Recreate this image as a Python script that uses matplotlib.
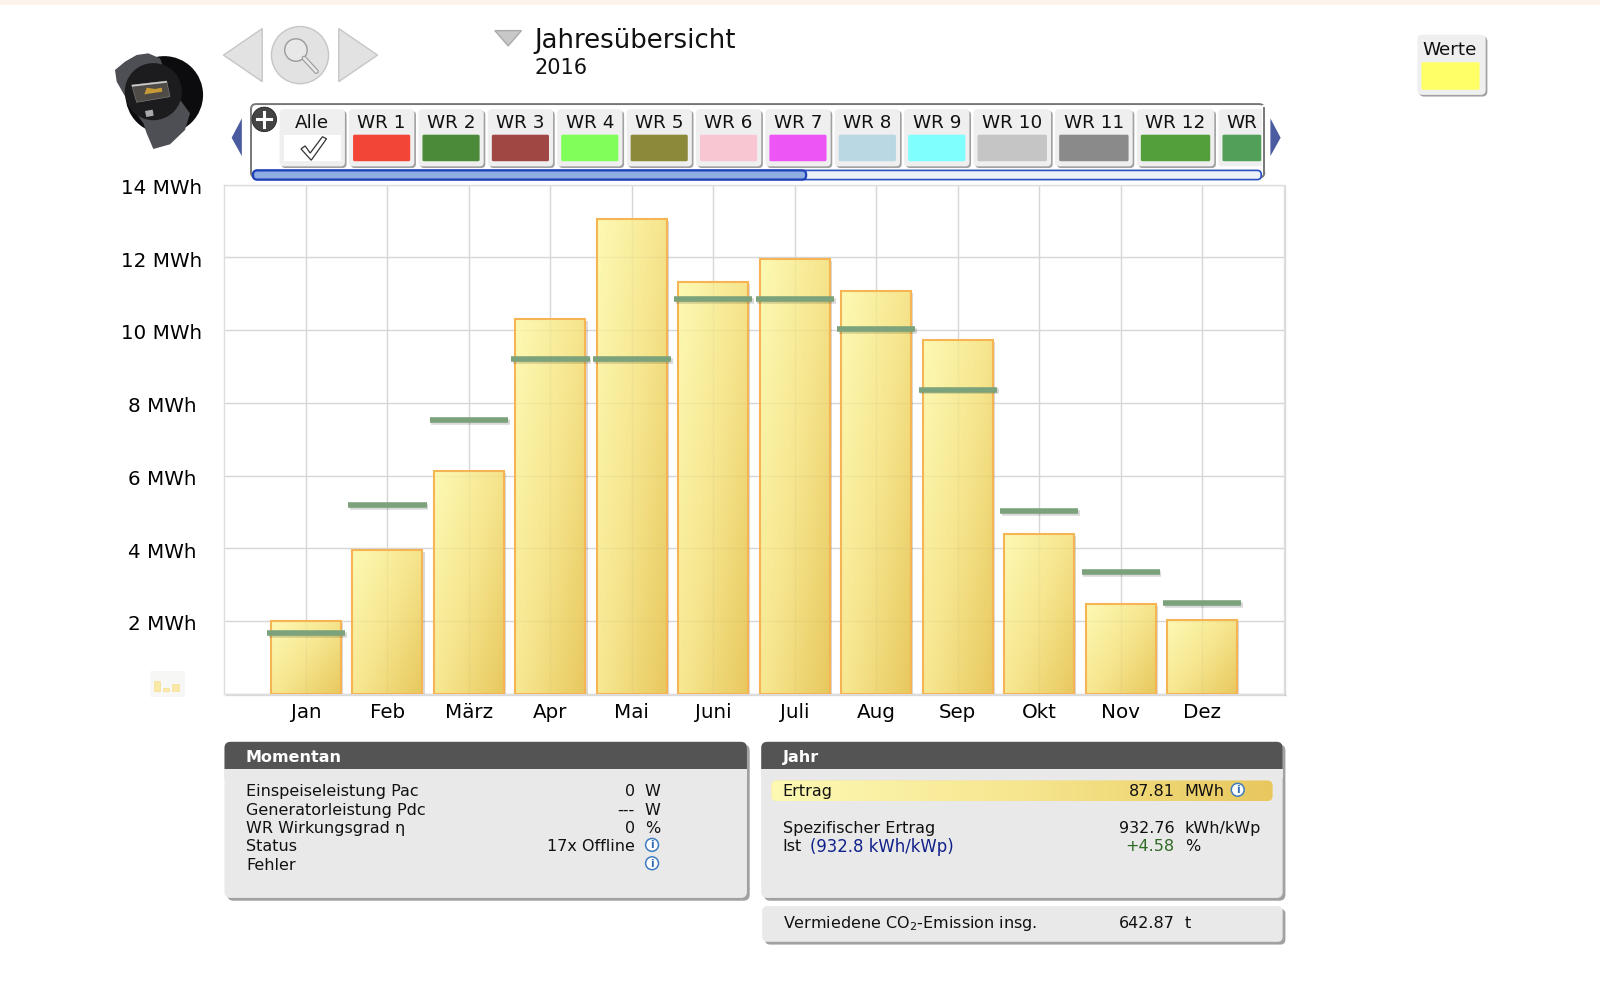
import matplotlib
matplotlib.use("Agg")
import matplotlib.pyplot as plt
import matplotlib.patheffects as pe
import numpy as np
from matplotlib.colors import LinearSegmentedColormap
from matplotlib.patches import Circle, FancyBboxPatch, Polygon, Rectangle
from matplotlib.transforms import ScaledTranslation

months = ["Jan", "Feb", "März", "Apr", "Mai", "Juni", "Juli", "Aug", "Sep", "Okt", "Nov", "Dez"]
ertrag = [2.00, 3.96, 6.14, 10.30, 13.05, 11.33, 11.95, 11.08, 9.74, 4.40, 2.47, 2.02]
soll = [1.66, 5.19, 7.52, 9.20, 9.20, 10.86, 10.86, 10.02, 8.36, 5.02, 3.34, 2.50]
y_ticks = [0, 2, 4, 6, 8, 10, 12, 14]
y_labels = ["", "2 MWh", "4 MWh", "6 MWh", "8 MWh", "10 MWh", "12 MWh", "14 MWh"]

tab_names = ["WR 1", "WR 2", "WR 3", "WR 4", "WR 5", "WR 6", "WR 7", "WR 8", "WR 9", "WR 10", "WR 11", "WR 12", "WR"]
tab_colors = ["#F24537", "#4A8A38", "#A04744", "#80FF5A", "#8C8A38", "#F7C6D2", "#EE55F5", "#BAD8E4",
              "#80FFFF", "#C5C5C5", "#8A8A8A", "#529F3C", "#529F58"]

momentan_rows = [("Einspeiseleistung Pac", "0", "W"), ("Generatorleistung Pdc", "---", "W"),
                 ("WR Wirkungsgrad η", "0", "%"), ("Status", "17x Offline", ""), ("Fehler", "", "")]

# the UI overlay works in the coordinates of a 1568 wide view of the page
W, H = 1568, 961.4
FS = 11.5
TAB_FS = 13.2

fig = plt.figure(figsize=(16, 9.81), dpi=100, facecolor="white")
plt.rcParams["font.family"] = "DejaVu Sans"

gold = LinearSegmentedColormap.from_list("gold", ["#FDF9B3", "#F6E68F", "#E8C85E"])

# chart
ax = fig.add_axes([220 / W, 1 - 680 / H, (1258 - 220) / W, (680 - 181) / H])
ax.set_xlim(0, 13)
ax.set_ylim(0, 14)
x = np.arange(1, 13)
ax.set_xticks(x, months, fontsize=14.3)
ax.set_yticks(y_ticks, y_labels, fontsize=14.3, ha="center")
ax.tick_params(axis="x", length=0, pad=6.5)
ax.tick_params(axis="y", length=0, pad=45)
for lab in ax.get_yticklabels():
    lab.set_transform(lab.get_transform() + ScaledTranslation(0, -1.2 / 72, fig.dpi_scale_trans))
ax.grid(True, color="#D6D6D6", lw=1.0, zorder=0)
ax.set_axisbelow(True)
for name, s in ax.spines.items():
    s.set_color("#DEDEDE")
    s.set_linewidth(1.0)
    if name in ("right", "bottom"):
        s.set_path_effects([pe.SimpleLineShadow(offset=(1, -1), alpha=0.15), pe.Normal()])

bar_w = 0.86
bars = ax.bar(x, ertrag, width=bar_w, facecolor="#F3DC86", edgecolor="#F7B455", linewidth=1.4, zorder=3,
              path_effects=[pe.SimplePatchShadow(offset=(1.5, -1.5), alpha=0.2), pe.Normal()])
gx, gy = np.meshgrid(np.linspace(0, 1, 64), np.linspace(0, 1, 64))
grad = 0.55 * gx + 0.45 * gy
for xi, v, b in zip(x, ertrag, bars):
    im = ax.imshow(grad, extent=(xi - bar_w / 2, xi + bar_w / 2, 0, v), cmap=gold, vmin=0, vmax=1,
                   interpolation="bilinear", aspect="auto", origin="upper", zorder=3.2)
    im.set_clip_path(b)
    # the grid shows faintly through the bars
    faint = [ax.axvline(xi, color="#777777", alpha=0.06, lw=1, zorder=3.3)]
    faint += [ax.axhline(t, color="#777777", alpha=0.06, lw=1, zorder=3.3) for t in y_ticks[1:]]
    for ln in faint:
        ln.set_clip_path(b)
ax.bar(x, ertrag, width=bar_w, facecolor="none", edgecolor="#F7B455", linewidth=1.5, zorder=3.4)
ax.set_xlim(0, 13)
ax.set_ylim(0, 14)
ax.hlines(soll, x - 0.48, x + 0.48, color="#7BA27A", lw=4.0, zorder=5,
          path_effects=[pe.SimpleLineShadow(offset=(1.2, -1.2), alpha=0.15), pe.Normal()])

# page furniture on top
ui = fig.add_axes([0, 0, 1, 1], zorder=5)
ui.set_xlim(0, W)
ui.set_ylim(H, 0)
ui.axis("off")
ui.patch.set_alpha(0)


def rbox(x0, y0, x1, y1, r=4, fc="#EFEFEF", ec="none", lw=0, z=2, shadow=None):
    p = FancyBboxPatch((x0 + r, y0 + r), x1 - x0 - 2 * r, y1 - y0 - 2 * r, boxstyle=f"round,pad={r},rounding_size={r}",
                       fc=fc, ec=ec, lw=lw, zorder=z)
    if shadow:
        p.set_path_effects([pe.SimplePatchShadow(offset=(shadow, -shadow), shadow_rgbFace="#555555", alpha=0.55),
                            pe.Normal()])
    ui.add_patch(p)
    return p


def info(cx, cy):
    ui.add_patch(Circle((cx, cy), 6.3, fc="white", ec="#3E7CC0", lw=1.1, zorder=6))
    ui.text(cx, cy + 0.3, "i", color="#2F6DB5", fontsize=7.5, fontweight="bold", ha="center", va="center", zorder=7)


def txt(px, py, s, ha="left", size=FS, color="#111111", **kw):
    ui.text(px, py + 1, s, ha=ha, va="center", fontsize=size, color=color, zorder=6, **kw)


def dev(pts):
    # device picture points, read in a 3x crop of the page
    return [((105 + a / 3) / 1.0204, (45 + b / 3) / 1.0204) for a, b in pts]


ui.add_patch(Rectangle((0, 0), W, 5, fc="#FDF3EA", ec="none"))

# nav buttons
tri_kw = dict(fc="#E2E2E2", ec="#C6C6C6", lw=1)
ui.add_patch(Polygon([(219, 54), (257, 28), (257, 80)], **tri_kw))
ui.add_patch(Polygon([(332, 28), (332, 80), (370, 54)], **tri_kw))
ui.add_patch(Circle((294, 54), 28, **tri_kw))
ui.add_patch(Circle((290, 49), 11, fc="#E8E8E8", ec="#9A9A9A", lw=1))
ui.plot([298, 310], [57, 70], color="#9A9A9A", lw=3.6, solid_capstyle="round")
ui.plot([298, 310], [57, 70], color="#E8E8E8", lw=2, solid_capstyle="round")
ui.add_patch(Polygon([(485, 30), (511, 30), (498, 45)], fc="#C8C8C8", ec="#AAAAAA", lw=1))
txt(524, 39, "Jahresübersicht", size=18.7)
txt(524, 66, "2016", size=15)

# device picture
ui.add_patch(Circle((161, 93), 38, fc="#0C0C0E", ec="none", zorder=2))
ui.add_patch(Polygon(dev([(30, 75), (60, 50), (95, 30), (130, 25), (165, 40), (200, 130), (255, 205), (240, 255),
                          (195, 298), (145, 312), (125, 265), (115, 235), (75, 180), (35, 110)]),
                     fc="#4E4F55", ec="none", zorder=3))
ui.add_patch(Circle(dev([(145, 140)])[0], 28, fc="#1C1C1F", ec="none", zorder=4))
ui.add_patch(Polygon(dev([(80, 120), (185, 108), (195, 155), (95, 172)]), fc="#4F4C48", ec="#888888", lw=0.4, zorder=5))
ui.add_patch(Polygon(dev([(80, 120), (185, 108), (186, 113), (81, 125)]), fc="#CCCCCC", ec="none", zorder=6))
ui.add_patch(Polygon(dev([(118, 148), (172, 140), (170, 128), (150, 132), (125, 128)]), fc="#C89A35", ec="none", zorder=6))
ui.add_patch(Polygon(dev([(120, 198), (143, 194), (146, 212), (124, 216)]), fc="#AAAAAA", ec="none", zorder=6))

# tab strip
rbox(246, 102, 1239, 174, r=5, fc="white", ec="#777777", lw=1.4, z=1)
ui.add_patch(Polygon([(237, 116), (237, 153), (227, 135)], fc="#4A5BA0", ec="none"))
ui.add_patch(Polygon([(1245, 116), (1245, 153), (1255, 135)], fc="#4A5BA0", ec="none"))

rbox(274, 107, 338, 163, fc="#EFEFEF", shadow=1.2)
txt(306, 120, "Alle", ha="center", size=TAB_FS)
ui.add_patch(Rectangle((278, 132), 56, 26, fc="white", ec="none", zorder=3))
ui.add_patch(Polygon([(295, 146), (299, 143), (304, 150), (316, 134), (320, 136), (305, 157)],
                     fc="white", ec="#333333", lw=0.9, zorder=4))

tab_edges = [(342 + 68 * i, 406 + 68 * i) for i in range(9)] + [(954, 1030), (1034, 1110), (1114, 1190), (1194, 1240)]
for name, col, (a, b) in zip(tab_names, tab_colors, tab_edges):
    rbox(a, 107, b, 163, fc="#EFEFEF", shadow=1.2 if name != "WR" else None)
    if name == "WR":
        txt(a + 8, 120, name, size=TAB_FS)
        rbox(a + 4, 132, 1236, 158, r=1.5, fc=col, z=3)
    else:
        txt((a + b) / 2, 120, name, ha="center", size=TAB_FS)
        rbox(a + 4, 132, b - 4, 158, r=1.5, fc=col, z=3)
# redraw right edge of the strip over the clipped tab
ui.add_patch(Rectangle((1237, 103), 5, 66, fc="white", ec="none", zorder=4))
ui.plot([1239, 1239], [106, 170], color="#777777", lw=1.4, zorder=5)

rbox(248, 167, 1236, 176, r=4, fc="#EEF2F8", ec="#2A4FC0", lw=1.2, z=5)
rbox(248, 167, 790, 176, r=4, fc="#8FADE0", ec="#1E40B8", lw=1.6, z=5.5)
ui.add_patch(Circle((259, 117), 12, fc="#444444", ec="#222222", lw=0.6, zorder=7))
ui.plot([252, 266], [117, 117], color="white", lw=2.2, zorder=8)
ui.plot([259, 259], [110, 124], color="white", lw=2.2, zorder=8)

# Werte box
rbox(1389, 34, 1456, 93, r=5, fc="#EFEFEF", shadow=1.2)
txt(1421, 48, "Werte", ha="center", size=TAB_FS)
rbox(1393, 61, 1450, 88, r=1.5, fc="#FFFF66", z=3)

# tiny chart icon left of the axis
ui.add_patch(Rectangle((147, 658), 34, 25, fc="#F7F7F5", ec="none"))
for a, top, w in [(151, 667, 6), (160, 674, 6), (169, 670, 6)]:
    ui.add_patch(Rectangle((a, top), w, 677 - top, fc="#FBE9A6", ec="#F4D98A", lw=0.4, zorder=3))

# Momentan panel
rbox(220, 727, 732, 880, r=6, fc="#E9E9E9", shadow=2)
rbox(220, 727, 732, 760, r=6, fc="#545454", z=3)
ui.add_patch(Rectangle((220, 754), 512, 8, fc="#E9E9E9", ec="none", zorder=3.5))
txt(241, 741, "Momentan", color="white", fontweight="bold")
for i, (lab, val, unit) in enumerate(momentan_rows):
    yy = 775 + 18 * i
    txt(241, yy, lab)
    txt(622, yy, val, ha="right")
    txt(632, yy, unit)
info(639, 828)
info(639, 846)

# Jahr panel
rbox(746, 727, 1257, 880, r=6, fc="#E9E9E9", shadow=2)
rbox(746, 727, 1257, 760, r=6, fc="#545454", z=3)
ui.add_patch(Rectangle((746, 754), 511, 8, fc="#E9E9E9", ec="none", zorder=3.5))
txt(767, 741, "Jahr", color="white", fontweight="bold")

ertrag_bar = rbox(756, 765, 1247, 785, r=5, fc="#F3DC86", z=3.6)
im = ui.imshow(np.linspace(0, 1, 64).reshape(1, -1), extent=(756, 1247, 785, 765), cmap=gold, vmin=0, vmax=1,
               aspect="auto", zorder=3.7)
im.set_clip_path(ertrag_bar)
ui.set_xlim(0, W)
ui.set_ylim(H, 0)
txt(767, 775, "Ertrag")
txt(1151, 775, "87.81", ha="right")
txt(1161, 775, "MWh")
info(1213, 774)
txt(767, 811, "Spezifischer Ertrag")
txt(1151, 811, "932.76", ha="right")
txt(1161, 811, "kWh/kWp")
txt(767, 829, "Ist")
txt(794, 829, "(932.8 kWh/kWp)", color="#10208A", size=11.9)
txt(1151, 829, "+4.58", ha="right", color="#2F6B25")
txt(1161, 829, "%")

rbox(747, 888, 1257, 923, r=5, fc="#E9E9E9", shadow=2)
txt(767, 904, "Vermiedene CO$_{2}$-Emission insg.")
txt(1151, 904, "642.87", ha="right")
txt(1161, 904, "t")

fig.savefig("out.png", dpi=100)
